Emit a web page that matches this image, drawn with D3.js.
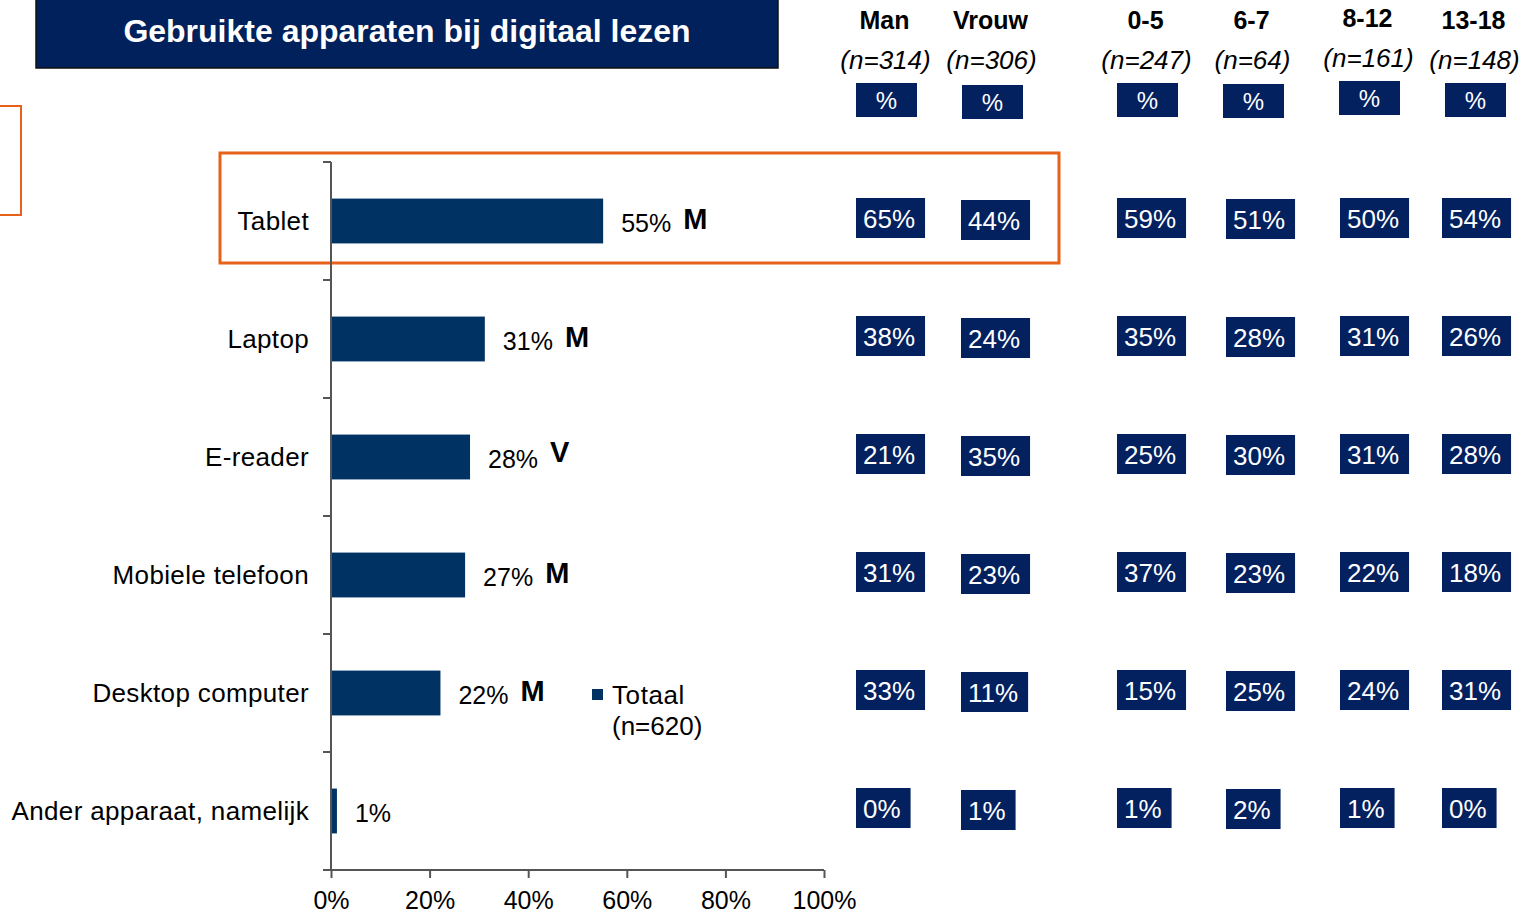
<!DOCTYPE html>
<html>
<head>
<meta charset="utf-8">
<script src="https://cdn.jsdelivr.net/npm/d3@7"></script>
<style>
  body { margin: 0; background: #fff; }
  svg { display: block; font-family: "Liberation Sans", Arial, sans-serif; }
</style>
</head>
<body>
<div id="chart"></div>
<script>
// data
var categories = ["Tablet", "Laptop", "E-reader", "Mobiele telefoon", "Desktop computer", "Ander apparaat, namelijk"];
var totaal = [55, 31, 28, 27, 22, 1];
var significance = ["M", "M", "V", "M", "M", ""];
var groups = ["Man", "Vrouw", "0-5", "6-7", "8-12", "13-18"];
var groupN = ["(n=314)", "(n=306)", "(n=247)", "(n=64)", "(n=161)", "(n=148)"];
var man = [65, 38, 21, 31, 33, 0];
var vrouw = [44, 24, 35, 23, 11, 1];
var age0to5 = [59, 35, 25, 37, 15, 1];
var age6to7 = [51, 28, 30, 23, 25, 2];
var age8to12 = [50, 31, 31, 22, 24, 1];
var age13to18 = [54, 26, 28, 18, 31, 0];
var xTicks = [0, 20, 40, 60, 80, 100];
var title = "Gebruikte apparaten bij digitaal lezen";
var legendLabel = ["Totaal", "(n=620)"];

var groupValues = [man, vrouw, age0to5, age6to7, age8to12, age13to18];

var width = 1528, height = 915;
var barColor = "#003263";
var boxColor = "#03205f";
var orange = "#e8611a";
var axisColor = "#555";

var svg = d3.select("#chart").append("svg")
    .attr("width", width)
    .attr("height", height);

// scales
var x = d3.scaleLinear().domain([0, 100]).range([331, 824]);
var y = d3.scaleBand().domain(categories).range([162, 870])
    .paddingInner(0.62).paddingOuter(0.31);
var colX = d3.scaleOrdinal().domain(groups).range([856, 961, 1117, 1226, 1340, 1442]);
var headX = d3.scaleOrdinal().domain(groups).range([856, 962, 1117, 1223, 1339, 1445]);
var colDy = d3.scaleOrdinal().domain(groups).range([0, 2, 0, 1, 0, 0]);

// title box
svg.append("rect")
    .attr("x", 36).attr("y", -2)
    .attr("width", 742).attr("height", 70)
    .attr("fill", "#00215c")
    .attr("stroke", "#111").attr("stroke-width", 1.5);
svg.append("text")
    .attr("x", 407).attr("y", 42)
    .attr("text-anchor", "middle")
    .attr("fill", "#fff")
    .attr("font-weight", "bold")
    .attr("font-size", 32)
    .text(title);

// orange highlight boxes
svg.append("rect")
    .attr("x", -10).attr("y", 106)
    .attr("width", 31).attr("height", 109)
    .attr("fill", "none").attr("stroke", orange).attr("stroke-width", 2);
svg.append("rect")
    .attr("x", 220).attr("y", 153)
    .attr("width", 839).attr("height", 110)
    .attr("fill", "none").attr("stroke", orange).attr("stroke-width", 3);

// bars
svg.selectAll(".bar")
    .data(categories)
    .enter().append("rect")
    .attr("class", "bar")
    .attr("x", x(0) + 1)
    .attr("y", function(d) { return y(d); })
    .attr("width", function(d, i) { return x(totaal[i]) - x(0); })
    .attr("height", y.bandwidth())
    .attr("fill", barColor);

// axes
var yAxis = svg.append("g")
    .attr("transform", "translate(" + x(0) + ",0)");
yAxis.append("line")
    .attr("y1", y.range()[0]).attr("y2", y.range()[1])
    .attr("stroke", axisColor).attr("stroke-width", 2);
var bounds = categories.map(function(d) { return y(d) - y.step() * y.paddingInner() / 2; });
bounds.push(y.range()[1]);
yAxis.selectAll(".ytick")
    .data(bounds)
    .enter().append("line")
    .attr("x1", -8).attr("x2", 0)
    .attr("y1", function(d) { return d; }).attr("y2", function(d) { return d; })
    .attr("stroke", axisColor).attr("stroke-width", 2);

var xAxis = svg.append("g")
    .attr("transform", "translate(0," + y.range()[1] + ")")
    .call(d3.axisBottom(x).tickValues(xTicks).tickSize(8).tickSizeOuter(0)
        .tickFormat(function(d) { return d + "%"; }));
xAxis.select(".domain").attr("stroke", axisColor).attr("stroke-width", 2)
    .attr("d", "M" + (x(0) - 8) + ",0H" + x(100));
xAxis.selectAll(".tick line").attr("stroke", axisColor).attr("stroke-width", 2);
xAxis.selectAll(".tick text")
    .attr("font-family", "Liberation Sans, Arial, sans-serif")
    .attr("font-size", 25).attr("fill", "#000").attr("dy", "1.1em");

// category labels
svg.selectAll(".cat")
    .data(categories)
    .enter().append("text")
    .attr("x", 309)
    .attr("y", function(d) { return y(d) + y.bandwidth() / 2 + 9; })
    .attr("text-anchor", "end")
    .attr("font-size", 26)
    .attr("letter-spacing", 0.35)
    .attr("fill", "#000")
    .text(function(d) { return d; });

// value labels with significance markers
var valueLabels = svg.selectAll(".val")
    .data(categories)
    .enter().append("text")
    .attr("x", function(d, i) { return x(totaal[i]) + 19; })
    .attr("y", function(d) { return y(d) + y.bandwidth() / 2 + 11; })
    .attr("font-size", 25)
    .attr("fill", "#000")
    .text(function(d, i) { return totaal[i] + "%"; });

valueLabels.each(function(d, i) {
    if (!significance[i]) return;
    var w = this.getComputedTextLength();
    svg.append("text")
        .attr("x", x(totaal[i]) + 19 + w + 12)
        .attr("y", y(d) + y.bandwidth() / 2 + (significance[i] === "V" ? 5 : 8))
        .attr("font-size", 29)
        .attr("font-weight", "bold")
        .attr("fill", "#000")
        .text(significance[i]);
});

// legend
svg.append("rect")
    .attr("x", 592).attr("y", 689)
    .attr("width", 11).attr("height", 11)
    .attr("fill", barColor);
svg.append("text")
    .attr("x", 612).attr("y", 704)
    .attr("font-size", 26)
    .attr("letter-spacing", 0.6)
    .text(legendLabel[0]);
svg.append("text")
    .attr("x", 612).attr("y", 735)
    .attr("font-size", 26)
    .text(legendLabel[1]);

// group headers
var headBoxW = 61;
groups.forEach(function(g, j) {
    var cx = headX(g) + headBoxW / 2;
    var lift = j === 4 ? 2 : 0;
    svg.append("text")
        .attr("x", cx - 2).attr("y", 29 - lift)
        .attr("text-anchor", "middle")
        .attr("font-size", 25).attr("font-weight", "bold")
        .text(g);
    svg.append("text")
        .attr("x", cx - 1).attr("y", 69 - lift)
        .attr("text-anchor", "middle")
        .attr("font-size", 26).attr("font-style", "italic")
        .text(groupN[j]);
    svg.append("rect")
        .attr("x", headX(g)).attr("y", 83 + colDy(g) - lift)
        .attr("width", headBoxW).attr("height", 34)
        .attr("fill", boxColor);
    svg.append("text")
        .attr("x", cx).attr("y", 109 + colDy(g) - lift)
        .attr("text-anchor", "middle")
        .attr("font-size", 24).attr("fill", "#fff")
        .text("%");
});

// value cells
groups.forEach(function(g, j) {
    var cells = svg.append("g");
    categories.forEach(function(c, i) {
        var cy = y(c) + y.bandwidth() / 2 - 3 + colDy(g);
        var box = cells.append("rect")
            .attr("x", colX(g)).attr("y", cy - 20)
            .attr("height", 40)
            .attr("fill", boxColor);
        var t = cells.append("text")
            .attr("x", colX(g) + 7).attr("y", cy + 10)
            .attr("font-size", 26).attr("fill", "#fff")
            .text(groupValues[j][i] + "%");
        box.attr("width", t.node().getComputedTextLength() + 17);
    });
});
</script>
</body>
</html>
